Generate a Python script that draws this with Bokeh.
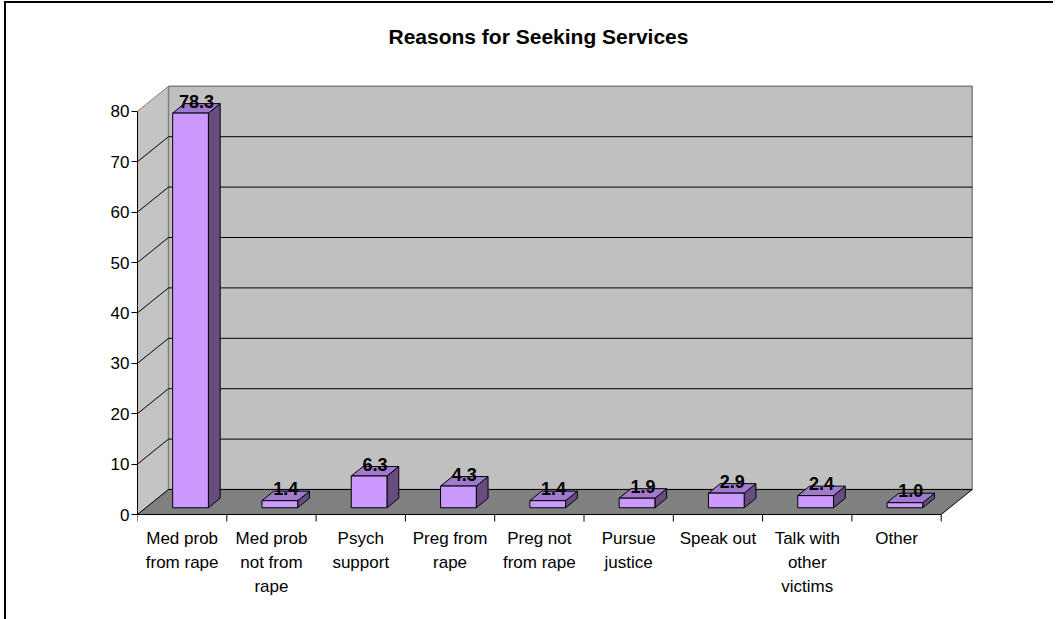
from bokeh.plotting import figure
from bokeh.models import Range1d, FixedTicker
from bokeh.core.properties import value
from bokeh.embed import file_html
from bokeh.resources import INLINE

# ---- data ----
categories = ["Med prob\nfrom rape", "Med prob\nnot from\nrape", "Psych\nsupport",
              "Preg from\nrape", "Preg not\nfrom rape", "Pursue\njustice",
              "Speak out", "Talk with\nother\nvictims", "Other"]
values = [78.3, 1.4, 6.3, 4.3, 1.4, 1.9, 2.9, 2.4, 1.0]
y_ticks = [0, 10, 20, 30, 40, 50, 60, 70, 80]
title = "Reasons for Seeking Services"

FONT = "Liberation Sans"
n = len(categories)
ymax = y_ticks[-1]

# ---- layout (pixels) ----
OX, OY = 6, 3          # canvas origin on the page
px_x = 89.3            # px per category
px_y = 5.04            # px per value unit
frame_l, frame_t, frame_r, frame_b = 137, 53, 1000, 605
zero_y = 514
frame_w, frame_h = frame_r - frame_l, frame_b - frame_t
# depth vector (data units)
DX, DY = 31 / px_x, 25 / px_y
F1, F2 = 0.27, 0.65   # bar front/back depth fraction
BW = 0.4              # bar width (category units)

p = figure(frame_width=frame_w, frame_height=frame_h,
           min_border_left=frame_l - OX, min_border_right=1053 - frame_r,
           min_border_top=frame_t - OY, min_border_bottom=619 - OY - frame_b + 5,
           x_range=Range1d(0, frame_w / px_x),
           y_range=Range1d(-(frame_b - zero_y) / px_y, (zero_y - frame_t) / px_y),
           x_axis_location=None, toolbar_location=None, output_backend="svg",
           title=title)
p.outline_line_color = None
p.background_fill_color = "white"
p.border_fill_color = "white"
p.xgrid.grid_line_color = None
p.ygrid.grid_line_color = None
p.styles = {"margin-left": "4px", "margin-top": "1px",
            "border-left": "2px solid black", "border-top": "2px solid black"}

p.title.text_font = FONT
p.title.text_font_size = "21px"
p.title.text_font_style = "bold"
p.title.text_color = "black"
p.title.align = "left"
p.title.offset = 251
p.title.standoff = 12

# y axis
ax = p.yaxis[0]
ax.ticker = FixedTicker(ticks=y_ticks)
ax.bounds = (0, ymax)
ax.axis_line_color = "black"
ax.major_tick_line_color = "black"
ax.major_tick_out = 6
ax.major_tick_in = 0
ax.minor_tick_line_color = None
ax.major_label_text_font = FONT
ax.major_label_text_font_size = "17px"
ax.major_label_text_color = "black"
ax.major_label_standoff = 2

# walls
p.patch([0, 0, DX, DX], [0, ymax, ymax + DY, DY], fill_color="#C4C4C4",
        line_color="#808080", line_width=1)
p.patch([DX, n + DX, n + DX, DX], [DY, DY, ymax + DY, ymax + DY],
        fill_color="#C0C0C0", line_color="#808080", line_width=1.5)
p.patch([0, n, n + DX, DX], [0, 0, DY, DY], fill_color="#808080",
        line_color="black", line_width=1)

# gridlines
g = [t for t in y_ticks if 0 < t < ymax]
p.segment(x0=[DX] * len(g), y0=[t + DY for t in g], x1=[n + DX] * len(g),
          y1=[t + DY for t in g], line_color="black", line_width=1)
p.segment(x0=[0] * len(g), y0=g, x1=[DX] * len(g), y1=[t + DY for t in g],
          line_color="black", line_width=1)

# category axis line and ticks
p.segment(x0=[0], y0=[0], x1=[n], y1=[0], line_color="black", line_width=1)
p.segment(x0=list(range(n + 1)), y0=[0] * (n + 1), x1=list(range(n + 1)),
          y1=[-7 / px_y] * (n + 1), line_color="black", line_width=1)

# bars
for i, v in enumerate(values):
    xl = i + 0.5 - BW / 2 + F1 * DX
    xr = xl + BW
    b = F1 * DY
    t = b + v
    ddx, ddy = (F2 - F1) * DX, (F2 - F1) * DY
    p.patch([xr, xr + ddx, xr + ddx, xr], [b, b + ddy, t + ddy, t],
            fill_color="#664C80", line_color="black", line_width=1)
    p.patch([xl, xr, xr + ddx, xl + ddx], [t, t, t + ddy, t + ddy],
            fill_color="#A07ACC", line_color="black", line_width=1)
    p.quad(left=[xl], right=[xr], bottom=[b], top=[t],
           fill_color="#CC99FF", line_color="black", line_width=1)

# value labels
lx = [i + 0.5 + (F1 + F2) / 2 * DX for i in range(n)]
ly = [v + (F1 + F2) / 2 * DY for v in values]
p.text(x=lx, y=ly, text=[f"{v:.1f}" for v in values], y_offset=-7,
       text_font=value(FONT), text_font_size="18px", text_font_style="bold",
       text_align="center", text_baseline="middle", text_color="black")

# category labels
p.text(x=[i + 0.5 for i in range(n)], y=[0] * n, text=categories, y_offset=14,
       text_font=value(FONT), text_font_size="17px", text_align="center",
       text_baseline="top", text_line_height=1.27, text_color="black")

open("out.html", "w").write(file_html(p, INLINE))
